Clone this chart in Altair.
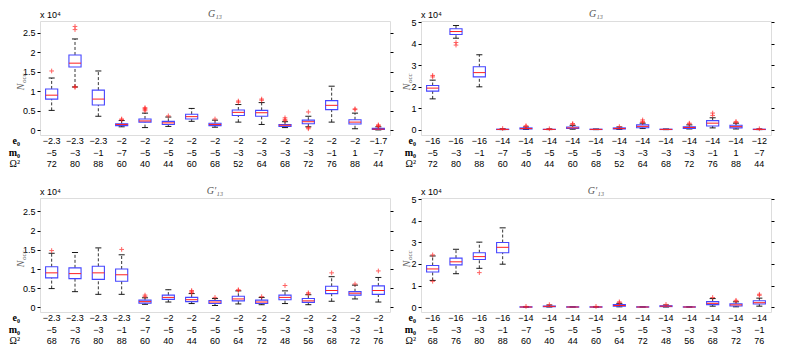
import altair as alt
import pandas as pd

IDX = list(range(1, 16))

# ---------------- top-left : G13 ----------------
tl_e0 = [-2.3, -2.3, -2.3, -2, -2, -2, -2, -2, -2, -2, -2, -2, -2, -2, -1.7]
tl_m0 = [-5, -3, -1, -7, -5, -5, -5, -5, -3, -3, -3, -3, -1, 1, -7]
tl_om = [72, 80, 88, 60, 40, 44, 60, 68, 52, 64, 68, 72, 76, 88, 44]
tl_lo = [0.51, 1.11, 0.36, 0.09, 0.07, 0.10, 0.23, 0.08, 0.21, 0.15, 0.07, 0.09, 0.21, 0.04, 0.01]
tl_q1 = [0.80, 1.62, 0.65, 0.12, 0.21, 0.15, 0.29, 0.12, 0.38, 0.36, 0.10, 0.17, 0.53, 0.16, 0.02]
tl_md = [0.90, 1.72, 0.80, 0.15, 0.24, 0.19, 0.35, 0.15, 0.46, 0.45, 0.13, 0.22, 0.64, 0.21, 0.03]
tl_q3 = [1.06, 1.93, 1.03, 0.17, 0.29, 0.23, 0.41, 0.18, 0.52, 0.51, 0.15, 0.26, 0.76, 0.27, 0.05]
tl_hi = [1.34, 2.34, 1.52, 0.25, 0.44, 0.34, 0.56, 0.26, 0.66, 0.71, 0.22, 0.36, 1.13, 0.44, 0.09]
tl_out = [[1.52], [2.58, 2.66, 1.10, 1.12], [], [0.27, 0.29], [0.50, 0.53, 0.56, 0.58], [0.37], [],
          [0.29], [0.72, 0.75], [0.77, 0.80], [0.25, 0.28, 0.32], [0.47, 0.07, 0.04], [],
          [0.53, 0.55], [0.10, 0.12, 0.14]]

# ---------------- top-right : G13 ----------------
tr_e0 = [-16, -16, -16, -14, -14, -14, -14, -14, -14, -14, -14, -14, -14, -14, -12]
tr_m0 = tl_m0
tr_om = tl_om
tr_lo = [1.43, 4.25, 1.99, 0.00, 0.01, 0.00, 0.02, 0.00, 0.01, 0.05, 0.00, 0.03, 0.08, 0.03, 0.00]
tr_q1 = [1.79, 4.42, 2.45, 0.005, 0.03, 0.005, 0.05, 0.005, 0.03, 0.09, 0.005, 0.06, 0.17, 0.08, 0.005]
tr_md = [1.93, 4.56, 2.65, 0.01, 0.05, 0.01, 0.08, 0.01, 0.05, 0.15, 0.01, 0.10, 0.30, 0.14, 0.01]
tr_q3 = [2.05, 4.69, 2.92, 0.02, 0.08, 0.02, 0.12, 0.02, 0.08, 0.22, 0.02, 0.13, 0.42, 0.20, 0.02]
tr_hi = [2.30, 4.84, 3.48, 0.04, 0.12, 0.03, 0.20, 0.03, 0.12, 0.30, 0.03, 0.22, 0.55, 0.30, 0.03]
tr_out = [[2.45, 2.52], [4.05, 3.93], [], [0.05], [0.15, 0.18], [0.04], [0.25, 0.28], [], [0.14],
          [0.33, 0.38, 0.45], [], [0.26, 0.30], [0.66, 0.77], [0.33, 0.38], [0.04]]

# ---------------- bottom-left : G'13 ----------------
bl_e0 = [-2.3, -2.3, -2.3, -2.3, -2, -2, -2, -2, -2, -2, -2, -2, -2, -2, -2]
bl_m0 = [-5, -3, -3, -1, -7, -5, -5, -5, -5, -5, -3, -3, -3, -3, -1]
bl_om = [68, 76, 80, 88, 60, 40, 44, 60, 64, 72, 48, 56, 68, 72, 76]
bl_lo = [0.49, 0.41, 0.34, 0.34, 0.08, 0.14, 0.10, 0.05, 0.09, 0.07, 0.10, 0.07, 0.16, 0.22, 0.14]
bl_q1 = [0.77, 0.75, 0.73, 0.68, 0.11, 0.21, 0.15, 0.10, 0.17, 0.10, 0.20, 0.13, 0.36, 0.32, 0.34]
bl_md = [0.90, 0.88, 0.90, 0.85, 0.15, 0.26, 0.20, 0.14, 0.22, 0.14, 0.26, 0.17, 0.44, 0.37, 0.44]
bl_q3 = [1.06, 1.03, 1.07, 1.00, 0.19, 0.32, 0.26, 0.18, 0.29, 0.19, 0.32, 0.23, 0.55, 0.41, 0.56]
bl_hi = [1.41, 1.43, 1.55, 1.37, 0.25, 0.46, 0.36, 0.23, 0.43, 0.26, 0.43, 0.33, 0.80, 0.58, 0.78]
bl_out = [[1.48], [], [], [1.51], [0.28, 0.32], [], [0.38, 0.41, 0.44], [0.26], [0.44, 0.46],
          [0.28], [0.57], [0.35, 0.38], [0.90], [0.61], [0.95]]

# ---------------- bottom-right : G'13 ----------------
br_e0 = [-16, -16, -16, -16, -14, -14, -14, -14, -14, -14, -14, -14, -14, -14, -14]
br_m0 = bl_m0
br_om = bl_om
br_lo = [1.24, 1.55, 1.80, 1.99, 0.00, 0.01, 0.00, 0.00, 0.02, 0.00, 0.01, 0.00, 0.05, 0.02, 0.05]
br_q1 = [1.63, 1.96, 2.21, 2.52, 0.005, 0.02, 0.005, 0.005, 0.05, 0.005, 0.03, 0.005, 0.12, 0.06, 0.15]
br_md = [1.77, 2.10, 2.34, 2.77, 0.01, 0.04, 0.01, 0.01, 0.08, 0.01, 0.05, 0.01, 0.18, 0.11, 0.21]
br_q3 = [1.93, 2.27, 2.52, 2.99, 0.02, 0.06, 0.02, 0.02, 0.12, 0.02, 0.07, 0.02, 0.26, 0.16, 0.30]
br_hi = [2.37, 2.68, 3.01, 3.67, 0.03, 0.10, 0.03, 0.03, 0.18, 0.03, 0.10, 0.03, 0.40, 0.25, 0.42]
br_out = [[2.42, 1.20], [], [1.60], [], [0.04], [0.12], [], [0.04], [0.20, 0.25], [], [0.13], [],
          [0.45], [0.28, 0.32], [0.55, 0.60]]

W, H = 350, 114
SANS = "Liberation Sans"
SERIF = "Liberation Serif"
PLUS = "M -1 0 L 1 0 M 0 -1 L 0 1"


def fmt(v):
    return f"{v:g}".replace("-", "\u2212")


def panel(title, e0, m0, om, lo, q1, md, q3, hi, outs, ydom, yticks, rowx, ylabx):
    df = pd.DataFrame({"idx": IDX, "lo": lo, "q1": q1, "md": md, "q3": q3, "hi": hi,
                       "e0": [fmt(v) for v in e0], "m0": [fmt(v) for v in m0],
                       "om": [fmt(v) for v in om]})
    odf = pd.DataFrame([{"idx": i, "v": v} for i, vs in zip(IDX, outs) for v in vs])
    xs = alt.Scale(domain=[0.5, 15.5], nice=False, zero=False)
    ys = alt.Scale(domain=ydom, nice=False, zero=False)
    X = lambda f: alt.X(f, scale=xs, axis=None)
    left_axis = alt.Axis(values=yticks, format="~g", labelFont=SANS, labelFontSize=9,
                         labelColor="black", tickSize=3, tickColor="black", domain=False,
                         grid=False, title=None, labelPadding=2)
    right_axis = alt.Axis(values=yticks, orient="right", labels=False, tickSize=3,
                          tickColor="black", domain=False, grid=False, title=None)
    Y = lambda f, ax=None: alt.Y(f, scale=ys, axis=ax)

    base = alt.Chart(df).transform_calculate(
        bx1="datum.idx - 0.26", bx2="datum.idx + 0.26",
        cx1="datum.idx - 0.13", cx2="datum.idx + 0.13")

    whisk_up = base.mark_rule(color="black", strokeDash=[3, 2], strokeWidth=0.8).encode(
        x=X("idx:Q"), y=Y("q3:Q", left_axis), y2="hi:Q")
    whisk_dn = base.mark_rule(color="black", strokeDash=[3, 2], strokeWidth=0.8).encode(
        x=X("idx:Q"), y=Y("lo:Q"), y2="q1:Q")
    cap_hi = base.mark_rule(color="black", strokeWidth=0.9).encode(
        x=X("cx1:Q"), x2="cx2:Q", y=Y("hi:Q", right_axis))
    cap_lo = base.mark_rule(color="black", strokeWidth=0.9).encode(
        x=X("cx1:Q"), x2="cx2:Q", y=Y("lo:Q"))
    box = base.mark_rect(fill=None, stroke="#4646ff", strokeWidth=1.1).encode(
        x=X("bx1:Q"), x2="bx2:Q", y=Y("q1:Q"), y2="q3:Q")
    med = base.mark_rule(color="#ff2020", strokeWidth=1).encode(
        x=X("bx1:Q"), x2="bx2:Q", y=Y("md:Q"))
    pts = alt.Chart(odf).mark_point(shape=PLUS, filled=False, color="#ff2020",
                                    size=22, strokeWidth=1).encode(
        x=X("idx:Q"), y=Y("v:Q"))

    rows = []
    for field, dy in (("e0", 6), ("m0", 17.5), ("om", 29)):
        rows.append(alt.Chart(df).mark_text(font=SANS, fontSize=9, color="black",
                                            baseline="middle").encode(
            x=X("idx:Q"), y=alt.value(H + dy), text=f"{field}:N"))

    rl_b = pd.DataFrame({"t": ["e\u2080", "m\u2080"], "ry": [H + 6, H + 17.5]})
    rl_n = pd.DataFrame({"t": ["\u03a9\u00b2"], "ry": [H + 29]})
    rowlab_b = alt.Chart(rl_b).mark_text(font=SERIF, fontSize=10, fontWeight="bold",
                                         color="black", align="right",
                                         baseline="middle").encode(
        x=alt.value(rowx), y=alt.Y("ry:Q", scale=None), text="t:N")
    rowlab_n = alt.Chart(rl_n).mark_text(font=SERIF, fontSize=10, color="black",
                                         align="right", baseline="middle").encode(
        x=alt.value(rowx), y=alt.Y("ry:Q", scale=None), text="t:N")

    tt = pd.DataFrame({"t": [title]})
    ttl = alt.Chart(tt).mark_text(font=SERIF, fontStyle="italic", fontSize=10,
                                  color="#555555", baseline="middle").encode(
        x=alt.value(W / 2), y=alt.value(-7), text="t:N")
    mult = alt.Chart(pd.DataFrame({"t": ["x 10\u2074"]})).mark_text(
        font=SANS, fontSize=9, color="black", align="left", baseline="middle").encode(
        x=alt.value(0), y=alt.value(-6), text="t:N")
    yl1 = alt.Chart(pd.DataFrame({"t": ["N"]})).mark_text(
        font=SERIF, fontStyle="italic", fontSize=10, color="#666666", angle=270,
        align="center", baseline="middle").encode(
        x=alt.value(ylabx), y=alt.value(H / 2 + 9), text="t:N")
    yl2 = alt.Chart(pd.DataFrame({"t": ["occ"]})).mark_text(
        font=SERIF, fontStyle="italic", fontSize=7, color="#666666", angle=270,
        align="left", baseline="middle").encode(
        x=alt.value(ylabx + 3), y=alt.value(H / 2 + 5), text="t:N")

    return alt.layer(whisk_up, whisk_dn, cap_hi, cap_lo, box, med, pts, *rows, rowlab_b,
                     rowlab_n, ttl, mult, yl1, yl2).resolve_axis(
        y="independent").properties(width=W, height=H)


p_tl = panel("G\u2081\u2083", tl_e0, tl_m0, tl_om, tl_lo, tl_q1, tl_md, tl_q3, tl_hi, tl_out,
             [-0.12, 2.8], [0, 0.5, 1, 1.5, 2, 2.5], -20, -19)
p_tr = panel("G\u2081\u2083", tr_e0, tr_m0, tr_om, tr_lo, tr_q1, tr_md, tr_q3, tr_hi, tr_out,
             [-0.25, 5.05], [0, 1, 2, 3, 4, 5], -5, -14)
p_bl = panel("G\u2032\u2081\u2083", bl_e0, bl_m0, bl_om, bl_lo, bl_q1, bl_md, bl_q3, bl_hi,
             bl_out, [-0.12, 2.85], [0, 0.5, 1, 1.5, 2, 2.5], -20, -19)
p_br = panel("G\u2032\u2081\u2083", br_e0, br_m0, br_om, br_lo, br_q1, br_md, br_q3, br_hi,
             br_out, [-0.22, 5.05], [0, 1, 2, 3, 4, 5], -5, -14)

top = alt.hconcat(p_tl, p_tr, spacing=7)
bot = alt.hconcat(p_bl, p_br, spacing=7)
chart = alt.vconcat(top, bot, spacing=15).properties(
    padding={"left": 0, "top": 0, "right": 0, "bottom": 0}
).configure_view(stroke="#222222", strokeWidth=0.9).configure(background="white")

chart.save("out.html", embed_options={"renderer": "svg", "actions": False})
